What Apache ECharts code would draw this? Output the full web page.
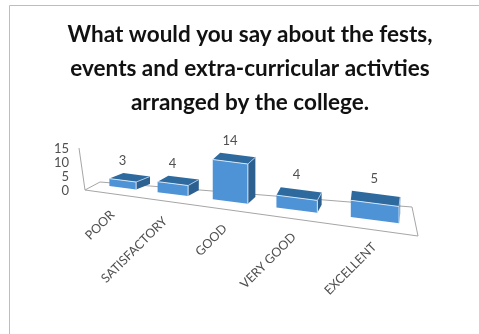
<!DOCTYPE html>
<html>
<head>
<meta charset="utf-8">
<script src="https://cdn.jsdelivr.net/npm/echarts@6/dist/echarts.min.js"></script>
<style>
  html, body { margin: 0; padding: 0; background: #fff; }
  #chart { width: 479px; height: 334px; }
</style>
</head>
<body>
<div id="chart"></div>
<script>
// data
var categories = ['POOR', 'SATISFACTORY', 'GOOD', 'VERY GOOD', 'EXCELLENT'];
var values = [3, 4, 14, 4, 5];
var titleText = 'What would you say about the fests,\nevents and extra-curricular activties\narranged by the college.';

// perspective of the floor, x = (a*u + b) / (1 + c*u), u = position in categories
var persA = 37.8, persB = 99.8, persC = -0.062;
var barWidth = 0.57;
var heightFactor = 0.857;

function scaleAt(u) {
  return 1 / (1 + persC * u);
}
function floorX(u) {
  return (persA * u + persB) * scaleAt(u);
}
function floorY(x) {
  return 186 + 0.128 * (x - 109);
}

function renderBar(params, api) {
  var i = api.value(0);
  var v = api.value(1);
  var unit = (api.coord([i, 0])[1] - api.coord([i, v])[1]) * heightFactor;
  var uc = i + 0.5;
  var h = unit * scaleAt(uc);
  var xl = floorX(uc - barWidth / 2);
  var xr = floorX(uc + barWidth / 2);
  var dx = 15.5 - 3.2 * uc;
  var dy = -5.5 - 0.2 * uc * uc;
  var bl = [xl, floorY(xl)], br = [xr, floorY(xr)];
  var tl = [xl, bl[1] - h], tr = [xr, br[1] - h];
  var btl = [tl[0] + dx, tl[1] + dy], btr = [tr[0] + dx, tr[1] + dy];
  var bbr = [br[0] + dx, br[1] + dy];
  var xc = floorX(uc);
  var endX = xc - 10 + 2.5 * i;
  var endY = floorY(xc) + 25;
  return {
    type: 'group',
    children: [
      { type: 'polygon', shape: { points: [tl, tr, btr, btl] }, style: { fill: '#2f6a9f' } },
      { type: 'polygon', shape: { points: [tr, br, bbr, btr] }, style: { fill: '#2c6090' } },
      { type: 'polygon', shape: { points: [tl, tr, br, bl] }, style: { fill: '#4d93d6' } },
      { type: 'polyline', shape: { points: [tl, tr, br] }, style: { fill: null, stroke: '#d5e5f4', lineWidth: 1 } },
      { type: 'line', shape: { x1: tr[0], y1: tr[1], x2: btr[0], y2: btr[1] }, style: { stroke: '#a9c6e2', lineWidth: 1 } },
      {
        type: 'text', x: xc, y: btl[1] - 12,
        style: { text: String(v), fill: '#505050', font: '13px Lato', textAlign: 'center', textVerticalAlign: 'middle' }
      },
      {
        type: 'text', x: endX, y: endY, rotation: Math.PI / 4,
        style: { text: categories[i], fill: '#505050', font: '12.5px Lato', textAlign: 'right', textVerticalAlign: 'middle' }
      }
    ]
  };
}

var option = {
  backgroundColor: '#fff',
  animation: false,
  title: {
    text: titleText,
    left: 245,
    top: 13,
    textAlign: 'center',
    textStyle: { fontFamily: 'Lato', fontWeight: 'bold', fontSize: 22.5, lineHeight: 34, color: '#111' }
  },
  grid: { left: 80, top: 149, width: 340, height: 42 },
  xAxis: { type: 'category', data: categories, show: false },
  yAxis: {
    type: 'value', min: 0, max: 15, interval: 5,
    axisLine: { show: false }, axisTick: { show: false }, splitLine: { show: false },
    axisLabel: { fontFamily: 'Lato', fontSize: 13, color: '#505050', margin: 11 }
  },
  graphic: [
    { type: 'polyline', z: 0, shape: { points: [[79, 148], [85, 190], [418, 236], [412, 207], [100, 182], [85, 190]] }, style: { fill: null, stroke: '#a6a6a6', lineWidth: 1 } },
    { type: 'polyline', z: 0, shape: { points: [[9.5, 334], [9.5, 5.5], [479, 5.5]] }, style: { fill: null, stroke: '#bdbdbd', lineWidth: 1 } }
  ],
  series: [{
    type: 'custom',
    renderItem: renderBar,
    data: values.map(function (v, i) { return [i, v]; }),
    encode: { x: 0, y: 1 },
    clip: false
  }]
};

var chart = echarts.init(document.getElementById('chart'));
chart.setOption(option);
</script>
</body>
</html>
